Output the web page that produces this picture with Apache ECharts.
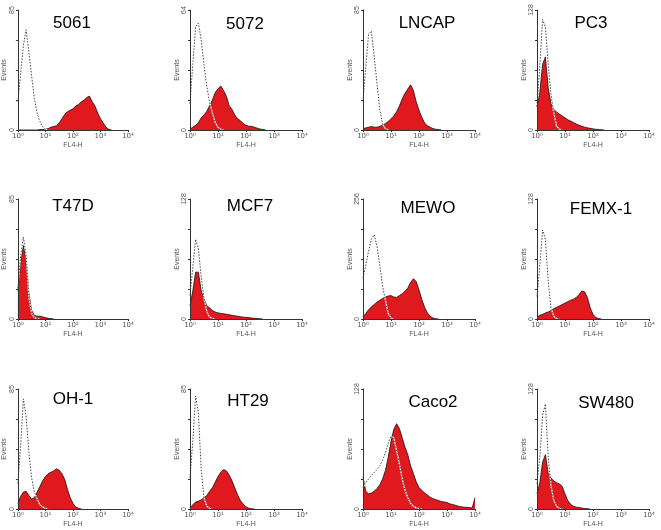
<!DOCTYPE html>
<html><head><meta charset="utf-8">
<script src="https://cdn.jsdelivr.net/npm/echarts@6/dist/echarts.min.js"></script>
<style>html,body{margin:0;padding:0;background:#fff}#c{width:661px;height:530px}</style>
</head><body><div id="c"></div>
<script>
// FL4-H channel bins (1/10 decade)
const fl4Bins = [1,1.259,1.585,1.995,2.512,3.162,3.981,5.012,6.310,7.943,
  10,12.59,15.85,19.95,25.12,31.62,39.81,50.12,63.10,79.43,
  100,125.9,158.5,199.5,251.2,316.2,398.1,501.2,631.0,794.3,
  1000,1259,1585,1995,2512,3162,3981,5012,6310,7943,10000];
const xTickLabels = ['10\u2070','10\u00B9','10\u00B2','10\u00B3','10\u2074'];
const cellLines = ['5061','5072','LNCAP','PC3','T47D','MCF7','MEWO','FEMX-1','OH-1','HT29','Caco2','SW480'];
const yMaxTicks = [85,64,85,128,85,128,256,128,85,85,128,128];

// stained (red) histograms, events per bin
const stained5061 = [0,0,0,0,0,0,0,0,0.3,0.3,0.5,1,2,2.5,3,5,8,11,13,14,15,17,18,20,21,23,24,20,17,12,8,5,2,0.5,0];
const stained5072 = [0.5,1.5,2.5,4,6.5,8,10,13,16,20,22,23.5,21,18,13,11,8,6,5,3.5,2.5,2,2,1.5,1,0.5,0.3,0];
const stainedLNCAP = [1,1.5,2,2.5,2,2,2.5,3.5,4.5,6,8,10,13,17,22,26,29,32,28,20,14,9,5,3,2,1,0.5,0.3,0];
const stainedPC3 = [25,40,70,78,45,28,22,19,17,15,13,11,9.5,8,6.5,5,4,3,2.3,1.8,1.2,0.8,0.5,0.3,0];
const stainedT47D = [20,40,52,42,18,6,2.5,2,2,1.5,1,0.5,0.3,0];
const stainedMCF7 = [14,30,50,50,30,22,14,12,9,7.5,6.5,6,5.5,5,4.5,4,3.5,3,2.5,2,1.8,1.5,1,0.8,0.5,0.3,0];
const stainedMEWO = [5,12,20,26,31,36,40,44,47,49,50,47,46,50,54,60,66,78,86,80,62,42,25,13,6,2,0.5,0];
const stainedFEMX1 = [2,4,5,6.5,7.5,9,11,12.5,14,15.5,17,18.5,20,21,23,26,30,29,23,12,5,1.5,0.5,0];
const stainedOH1 = [4,9,12,12.5,9.5,7,8,12,16,20,23,25,26,27,28.5,27.5,25,21,14,8,4,1.5,0.5,0];
const stainedHT29 = [1,3,5,5.5,6.5,8,9.5,12.5,15,19,23,26,28,27,24,20,15,10,6,3.5,1.5,0.6,0.2,0];
const stainedCaco2 = [34,19,16,17,19,22,26,32,41,55,72,85,91,86,76,66,58,46,38,29,23,20,17,15,12.5,11,10,9,8,7.5,7,5.5,4.8,4,3,2.5,2,1.8,1.5,1.2,12];
const stainedSW480 = [16,28,50,58,38,33,30,28,27,24,16,9,5,3,2,1.5,1,0.5,0.3,0];

// control (dotted) histograms
const control5061 = [20,40,60,71,55,38,22,12,6,2,0.5,0];
const control5072 = [14,35,55,57,48,35,23,15,9,4,1.5,0.5,0];
const controlLNCAP = [20,45,68,70,52,33,14,4,1,0];
const controlPC3 = [25,68,118,110,70,38,18,4,1,0];
const controlT47D = [22,45,58,45,15,4,1,0.3,0];
const controlMCF7 = [25,55,85,75,45,22,8,2,0.5,0];
const controlMEWO = [88,115,145,170,180,155,115,70,40,12,2,0];
const controlFEMX1 = [24,56,95,85,40,12,3,0.5,0];
const controlOH1 = [18,45,78,65,40,22,12,7,3,1.5,0.5,0];
const controlHT29 = [22,48,80,68,28,8,2,0.5,0];
const controlCaco2 = [23,28,32,36,39,42,46,52,60,70,78,76,62,48,32,20,12,6,3,1.2,0.5,0];
const controlSW480 = [27,55,100,112,55,25,9,3,0.8,0];

const stained = [stained5061,stained5072,stainedLNCAP,stainedPC3,stainedT47D,stainedMCF7,stainedMEWO,stainedFEMX1,stainedOH1,stainedHT29,stainedCaco2,stainedSW480];
const control = [control5061,control5072,controlLNCAP,controlPC3,controlT47D,controlMCF7,controlMEWO,controlFEMX1,controlOH1,controlHT29,controlCaco2,controlSW480];

// layout
const colLeft = [16,190,363,537], rowTop = [10,199,389], plotW = 112, plotH = 120;
const titleX = [72,245,427,591,73,250,428,601,73,248,433,606];
const titleY = [15,16,15,15,198,198,200,201,391,393,394,395];
const RED = '#e0191f', AX = '#333', LAB = '#555';

const grid = [], xAxis = [], yAxis = [], series = [], title = [];
for (let i = 0; i < 12; i++) {
  const r = Math.floor(i / 4), c = i % 4;
  grid.push({left: colLeft[c], top: rowTop[r], width: plotW, height: plotH});
  title.push({text: cellLines[i], left: titleX[i], top: titleY[i], textAlign: 'center', padding: 0,
    textStyle: {fontFamily: 'Liberation Sans, Arial, sans-serif', fontSize: 17, fontWeight: 'normal', color: '#000'}});
  xAxis.push({type: 'log', logBase: 10, min: 1, max: 10000, gridIndex: i, z: 5,
    axisLine: {lineStyle: {color: AX, width: 1}},
    axisTick: {show: true, length: 2, lineStyle: {color: AX}},
    splitLine: {show: false},
    axisLabel: {fontSize: 7, color: LAB, margin: 3, fontFamily: 'DejaVu Sans, sans-serif',
      formatter: v => xTickLabels[Math.round(Math.log10(v))]},
    name: 'FL4-H', nameLocation: 'middle', nameGap: 12,
    nameTextStyle: {fontSize: 7, color: LAB, fontFamily: 'Liberation Sans, Arial, sans-serif'}});
  const ym = yMaxTicks[i];
  yAxis.push({type: 'value', min: 0, max: ym, interval: ym / 4, gridIndex: i, z: 5,
    axisLine: {show: true, lineStyle: {color: AX, width: 1}},
    axisTick: {show: true, length: 2, lineStyle: {color: AX}},
    splitLine: {show: false},
    axisLabel: {fontSize: 7, color: LAB, margin: 2, rotate: 90, fontFamily: 'Liberation Sans, Arial, sans-serif',
      formatter: v => (v === 0 || v === ym) ? String(v) : ''},
    name: 'Events', nameLocation: 'middle', nameGap: 6, nameRotate: 90,
    nameTextStyle: {fontSize: 7, color: LAB, fontFamily: 'Liberation Sans, Arial, sans-serif'}});
  series.push({type: 'line', xAxisIndex: i, yAxisIndex: i, symbol: 'none', z: 2,
    data: stained[i].map((y, k) => [fl4Bins[k], y]),
    lineStyle: {color: '#111', width: 0.8}, areaStyle: {color: RED, opacity: 1}});
  const cd = control[i].map((y, k) => [fl4Bins[k], y]);
  series.push({type: 'line', xAxisIndex: i, yAxisIndex: i, symbol: 'none', z: 3, data: cd,
    lineStyle: {color: '#fff', width: 1.2}});
  series.push({type: 'line', xAxisIndex: i, yAxisIndex: i, symbol: 'none', z: 4, data: cd,
    lineStyle: {color: '#333', width: 0.9, type: [1.5, 1.5]}});
}

const chart = echarts.init(document.getElementById('c'));
chart.setOption({animation: false, backgroundColor: '#fff', title, grid, xAxis, yAxis, series});
</script></body></html>
